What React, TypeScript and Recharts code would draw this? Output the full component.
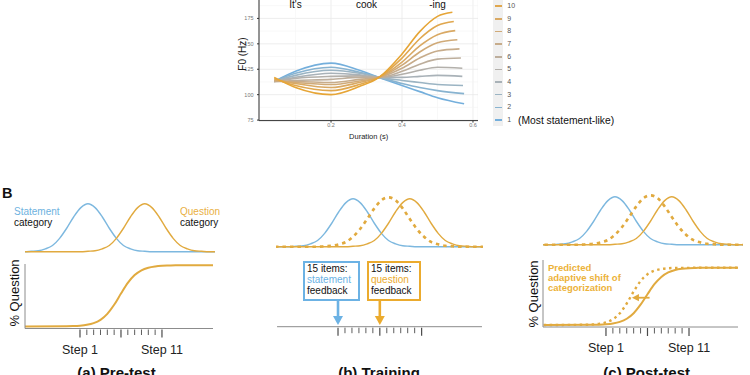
import React from 'react'
import { LineChart, Line, XAxis, YAxis, CartesianGrid, ReferenceLine, ReferenceDot } from 'recharts'

// ---------- A: F0 contours of the 11 continuum steps ----------
const contourTimes = [0.04, 0.1, 0.2, 0.28, 0.335, 0.4, 0.45, 0.5]
const contourEndTimes = [0.575, 0.575, 0.572, 0.57, 0.57, 0.566, 0.562, 0.556, 0.55, 0.546, 0.542]
const step1F0 = [113, 123, 131, 124, 117, 109, 103, 97, 91]
const step2F0 = [113, 121, 127, 122, 117, 111, 107, 104, 101]
const step3F0 = [113, 119, 124, 121, 117, 114, 112, 110, 109]
const step4F0 = [113, 117, 121, 119.5, 117, 117, 118, 119, 118]
const step5F0 = [113, 116, 118, 118.5, 117, 120, 124, 127, 126]
const step6F0 = [113, 114, 115, 117, 117, 123, 130, 135, 136]
const step7F0 = [113, 113, 112, 115, 117, 126, 136, 143, 145]
const step8F0 = [114, 112, 110, 113.5, 117, 129, 142, 151, 154]
const step9F0 = [115, 111, 107, 112, 117, 132, 148, 159, 163]
const step10F0 = [116, 109, 104, 110, 117, 136, 155, 168, 172]
const step11F0 = [117, 107, 100, 108, 117, 140, 162, 177, 181]
const stepF0 = [step1F0, step2F0, step3F0, step4F0, step5F0, step6F0, step7F0, step8F0, step9F0, step10F0, step11F0]
const stepNames = ['1', '2', '3', '4', '5', '6', '7', '8', '9', '10', '11']
const stepNotes = ['(Most statement-like)', '', '', '', '', '', '', '', '', '', '(Most question-like)']
const durationTicks = [0.2, 0.4, 0.6]
const f0Ticks = [75, 100, 125, 150, 175]
const minorF0 = [87.5, 112.5, 137.5, 162.5, 187.5]
const syllables = ["It's", 'cook', '-ing']
const syllableTimes = [0.1, 0.3, 0.5]

// ---------- B: category distributions & identification curves ----------
const statementX = [-11, -9, -8, -7, -6, -5, -4, -3, -2, -1, 0, 1, 2, 3, 4, 5, 6, 7, 8, 9, 21]
const statementY = [0, 0, 0.01, 0.02, 0.06, 0.13, 0.28, 0.49, 0.73, 0.92, 1, 0.92, 0.73, 0.49, 0.28, 0.13, 0.06, 0.02, 0.01, 0, 0]
const questionX = [-11, -1, 0, 1, 2, 3, 4, 5, 6, 7, 8, 9, 10, 11, 12, 13, 14, 15, 16, 17, 21]
const questionY = [0, 0, 0.01, 0.02, 0.06, 0.13, 0.28, 0.49, 0.73, 0.92, 1, 0.92, 0.73, 0.49, 0.28, 0.13, 0.06, 0.02, 0.01, 0, 0]
const shiftedX = [-11, -5, -4, -3, -2, -1, 0, 1, 2, 3, 4, 5, 6, 7, 8, 9, 10, 11, 12, 13, 14, 15, 21]
const shiftedY = [0, 0, 0.01, 0.02, 0.05, 0.1, 0.21, 0.37, 0.58, 0.8, 0.97, 1.03, 0.97, 0.8, 0.58, 0.37, 0.21, 0.1, 0.05, 0.02, 0.01, 0, 0]

const identX = [-9, -2, -1, 0, 1, 2, 3, 4, 5, 6, 7, 8, 9, 10, 11, 12, 13, 14, 20]
const identY = [0, 0.003, 0.006, 0.013, 0.027, 0.055, 0.109, 0.206, 0.354, 0.537, 0.711, 0.839, 0.917, 0.959, 0.98, 0.991, 0.996, 1, 1]
const shiftedIdentX = [-9, -3, -2, -1, 0, 1, 2, 3, 4, 5, 6, 7, 8, 9, 10, 20]
const shiftedIdentY = [0, 0.004, 0.008, 0.02, 0.045, 0.099, 0.204, 0.375, 0.584, 0.767, 0.885, 0.947, 0.977, 0.99, 0.996, 1]

const stepTicks = [0, 1, 2, 3, 4, 5, 6, 7, 8, 9, 10, 11, 12]
const majorStepTicks = [0, 6, 12]
const stepTickLabels = ['Step 1', '', '', '', '', '', '', '', '', '', '', '', 'Step 11']
const feedbackTicks = [0, 6]
const shiftArrow = { from: 6.3, to: 3.75, level: 0.476 }

// ---------- styles ----------
const stepColors = ['#74afdc', '#88b3d0', '#9bb4c3', '#a9b2b8', '#b3b0ab', '#bdae9c', '#c7ac8b', '#d0aa78', '#d9a964', '#e0a74e', '#e6a536']
const BLUE = '#7db8df'
const GOLD = '#e1aa3f'
const BOX_BLUE = '#6cb2e4'
const BOX_GOLD = '#ebab2e'
const AXIS = '#8c8c8c'

const toRows = (xs: number[], ys: number[]) => xs.map((u, i) => ({ u, v: ys[i] }))
const contourData = stepF0.map((vals, i) =>
  [...contourTimes, contourEndTimes[i]].map((t, j) => ({ t, f0: vals[j] }))
)

function StepTick(props: any) {
  const { x, y, payload, showLabels } = props
  const v = payload.value
  const major = majorStepTicks.includes(v)
  const label = showLabels ? stepTickLabels[stepTicks.indexOf(v)] : ''
  return (
    <g>
      <line x1={x} x2={x} y1={y + 1} y2={y + (major ? 9 : 6.5)} stroke="#4a4a4a" strokeWidth={major ? 1.2 : 0.9} />
      {label ? (
        <text x={x} y={y + 25} textAnchor="middle" fontSize={12.5} fill="#222">{label}</text>
      ) : null}
    </g>
  )
}

const downHead = (color: string) => (p: any) => (
  <polygon points={`${p.cx},${p.cy} ${p.cx - 5},${p.cy - 9} ${p.cx + 5},${p.cy - 9}`} fill={color} />
)
const leftHead = (color: string) => (p: any) => (
  <polygon points={`${p.cx},${p.cy} ${p.cx + 7},${p.cy - 3.6} ${p.cx + 7},${p.cy + 3.6}`} fill={color} />
)

function F0Chart() {
  return (
    <div style={{ position: 'absolute', left: 239, top: -7.1 }}>
      <LineChart width={239.3} height={149.1} margin={{ top: 0, right: 0, bottom: 3, left: 0 }}>
        <CartesianGrid stroke="#e8e8e8" strokeWidth={0.8} />
        {minorF0.map((f) => (
          <ReferenceLine key={f} y={f} stroke="#f3f3f3" strokeWidth={0.6} />
        ))}
        {syllables.map((s, i) => (
          <ReferenceLine
            key={s}
            x={syllableTimes[i]}
            stroke="#f3f3f3"
            strokeWidth={0.6}
            label={{ value: s, position: 'insideTop', offset: 7.5, fontSize: 10, fill: '#111' }}
          />
        ))}
        <XAxis
          type="number"
          dataKey="t"
          domain={[-0.003, 0.615]}
          ticks={durationTicks}
          interval={0}
          height={18.5}
          tick={{ fontSize: 5.5, fill: '#777' }}
          tickSize={2}
          tickMargin={1}
          stroke="#333"
          label={{ value: 'Duration (s)', position: 'insideBottom', offset: 0, fontSize: 7.5, fill: '#222' }}
        />
        <YAxis
          type="number"
          domain={[74.5, 200]}
          ticks={f0Ticks}
          interval={0}
          width={20}
          tick={{ fontSize: 5.5, fill: '#777' }}
          tickSize={2}
          tickMargin={3.5}
          stroke="#333"
        />
        {contourData.map((d, i) => (
          <Line
            key={i}
            data={d}
            dataKey="f0"
            type="monotone"
            stroke={stepColors[i]}
            strokeWidth={1.6}
            dot={false}
            isAnimationActive={false}
          />
        ))}
      </LineChart>
    </div>
  )
}

function Legend11() {
  return (
    <>
      <div style={{ position: 'absolute', left: 492.7, top: -14, width: 10.6, height: 140, background: '#f0f0f0' }} />
      {stepNames.map((s, i) => {
        const y = 120 - i * 12.65
        return (
          <React.Fragment key={s}>
            <div style={{ position: 'absolute', left: 495, top: y - 0.8, width: 7, height: 1.6, background: stepColors[i] }} />
            <div style={{ position: 'absolute', left: 507.3, top: y - 5, fontSize: 7, lineHeight: '10px', color: '#555' }}>{s}</div>
            {stepNotes[i] ? (
              <div style={{ position: 'absolute', left: 518, top: y - 6.5, fontSize: 10.3, lineHeight: '13px', color: '#111', whiteSpace: 'nowrap' }}>
                {stepNotes[i]}
              </div>
            ) : null}
          </React.Fragment>
        )
      })}
    </>
  )
}

function DistChart({ left, top, width, domain, shifted }: { left: number; top: number; width: number; domain: [number, number]; shifted: boolean }) {
  return (
    <div style={{ position: 'absolute', left, top }}>
      <LineChart width={width} height={54.2} margin={{ top: 0, right: 0, bottom: 0, left: 0 }}>
        <XAxis type="number" dataKey="u" hide domain={domain} allowDataOverflow />
        <YAxis type="number" hide domain={[-0.03, 1.1]} />
        <Line data={toRows(statementX, statementY)} dataKey="v" type="monotone" stroke={BLUE} strokeWidth={1.4} dot={false} isAnimationActive={false} />
        <Line data={toRows(questionX, questionY)} dataKey="v" type="monotone" stroke={GOLD} strokeWidth={1.4} dot={false} isAnimationActive={false} />
        {shifted ? (
          <Line data={toRows(shiftedX, shiftedY)} dataKey="v" type="monotone" stroke={GOLD} strokeWidth={2.6} strokeDasharray="3.5 4" dot={false} isAnimationActive={false} />
        ) : null}
      </LineChart>
    </div>
  )
}

function IdentChart({ left, top, width, plotH, xDomain, yDomain, shifted }: { left: number; top: number; width: number; plotH: number; xDomain: [number, number]; yDomain: [number, number]; shifted: boolean }) {
  return (
    <div style={{ position: 'absolute', left: left - 1, top }}>
      <LineChart width={width + 1} height={plotH + 30} margin={{ top: 0, right: 0, bottom: 0, left: 0 }}>
        <XAxis
          type="number"
          dataKey="u"
          domain={xDomain}
          allowDataOverflow
          ticks={stepTicks}
          interval={0}
          height={30}
          tickSize={0}
          tickMargin={0}
          tickLine={false}
          tick={(p: any) => <StepTick {...p} showLabels />}
          stroke={AXIS}
        />
        <YAxis type="number" domain={yDomain} width={1} tick={false} tickLine={false} stroke={AXIS} />
        {shifted ? (
          <Line data={toRows(shiftedIdentX, shiftedIdentY)} dataKey="v" type="monotone" stroke={GOLD} strokeWidth={2.4} strokeDasharray="2.5 3.5" dot={false} isAnimationActive={false} />
        ) : null}
        <Line data={toRows(identX, identY)} dataKey="v" type="monotone" stroke={GOLD} strokeWidth={2} dot={false} isAnimationActive={false} />
        {shifted ? (
          <ReferenceLine segment={[{ x: shiftArrow.from, y: shiftArrow.level }, { x: shiftArrow.to + 0.9, y: shiftArrow.level }]} stroke={GOLD} strokeWidth={1.8} />
        ) : null}
        {shifted ? (
          <ReferenceDot x={shiftArrow.to} y={shiftArrow.level} shape={leftHead(GOLD)} />
        ) : null}
      </LineChart>
    </div>
  )
}

function TrainingAxis() {
  const colors = [BOX_BLUE, BOX_GOLD]
  const baseline = toRows(stepTicks, stepTicks.map(() => 0))
  return (
    <div style={{ position: 'absolute', left: 277, top: 296 }}>
      <LineChart width={205} height={42.7} margin={{ top: 0, right: 0, bottom: 0, left: 0 }}>
        <XAxis
          type="number"
          dataKey="u"
          domain={[-8.75, 20.66]}
          ticks={stepTicks}
          interval={0}
          height={12}
          tickSize={0}
          tickMargin={0}
          tickLine={false}
          tick={(p: any) => <StepTick {...p} showLabels={false} />}
          stroke={AXIS}
        />
        <YAxis type="number" dataKey="v" domain={[0, 1]} width={0.01} tick={false} tickLine={false} axisLine={false} />
        <Line data={baseline} dataKey="v" stroke="none" dot={false} isAnimationActive={false} />
        {feedbackTicks.map((u, i) => (
          <ReferenceLine key={'s' + u} segment={[{ x: u, y: 0.84 }, { x: u, y: 0.3 }]} stroke={colors[i]} strokeWidth={2.6} />
        ))}
        {feedbackTicks.map((u, i) => (
          <ReferenceDot key={'h' + u} x={u} y={0.055} shape={downHead(colors[i])} />
        ))}
      </LineChart>
    </div>
  )
}

const abs = (left: number, top: number, extra: React.CSSProperties = {}): React.CSSProperties => ({
  position: 'absolute',
  left,
  top,
  whiteSpace: 'nowrap',
  ...extra,
})

function FeedbackBox({ left, width, word, color }: { left: number; width: number; word: string; color: string }) {
  return (
    <div
      style={{
        position: 'absolute',
        left,
        top: 261,
        width,
        height: 40,
        boxSizing: 'border-box',
        border: `2.5px solid ${color}`,
        padding: '1px 0 0 2px',
        fontSize: 10,
        lineHeight: '10.8px',
        color: '#111',
      }}
    >
      <div>15 items:</div>
      <div style={{ color }}>{word}</div>
      <div>feedback</div>
    </div>
  )
}

export default function App() {
  return (
    <div
      style={{
        position: 'absolute',
        left: 0,
        top: 0,
        width: 750,
        height: 375,
        overflow: 'hidden',
        background: '#fff',
        fontFamily: '"Liberation Sans", Arial, Helvetica, sans-serif',
        color: '#111',
      }}
    >
      <F0Chart />
      <Legend11 />
      <div style={abs(241.5, 54, { transform: 'translate(-50%, -50%) rotate(-90deg)', fontSize: 10, color: '#222' })}>F0 (Hz)</div>

      <div style={abs(2, 186, { fontSize: 14.5, fontWeight: 700, lineHeight: '14px' })}>B</div>

      {/* (a) Pre-test */}
      <DistChart left={25} top={198.9} width={190} domain={[-8.87, 17.89]} shifted={false} />
      <div style={abs(14, 207.4, { fontSize: 10, lineHeight: '10.6px' })}>
        <div style={{ color: '#6eb2e0' }}>Statement</div>
        <div>category</div>
      </div>
      <div style={abs(180, 207.4, { fontSize: 10, lineHeight: '10.6px' })}>
        <div style={{ color: '#e9b043' }}>Question</div>
        <div>category</div>
      </div>
      <IdentChart left={25} top={263.5} width={188} plotH={64.5} xDomain={[-8.05, 19.47]} yDomain={[-0.033, 1.02]} shifted={false} />
      <div style={abs(13.5, 292.5, { transform: 'translate(-50%, -50%) rotate(-90deg)', fontSize: 13 })}>% Question</div>
      <div style={abs(116.5, 364.8, { transform: 'translateX(-50%)', fontSize: 15, fontWeight: 700, lineHeight: '15px' })}>(a) Pre-test</div>

      {/* (b) Training */}
      <DistChart left={276} top={193.9} width={207} domain={[-10.85, 18.31]} shifted />
      <FeedbackBox left={303} width={57} word="statement" color={BOX_BLUE} />
      <FeedbackBox left={367} width={54} word="question" color={BOX_GOLD} />
      <TrainingAxis />
      <div style={abs(379, 364.8, { transform: 'translateX(-50%)', fontSize: 15, fontWeight: 700, lineHeight: '15px' })}>(b) Training</div>

      {/* (c) Post-test */}
      <DistChart left={543} top={192.2} width={200} domain={[-10.14, 18.03]} shifted />
      <IdentChart left={543} top={260} width={195} plotH={67} xDomain={[-9.1, 19.08]} yDomain={[-0.035, 1.134]} shifted />
      <div style={abs(532.5, 293.5, { transform: 'translate(-50%, -50%) rotate(-90deg)', fontSize: 13 })}>% Question</div>
      <div style={abs(548, 262.7, { fontSize: 9.5, fontWeight: 700, lineHeight: '10px', color: '#ecb23a' })}>
        <div>Predicted</div>
        <div>adaptive shift of</div>
        <div>categorization</div>
      </div>
      <div style={abs(646.7, 364.8, { transform: 'translateX(-50%)', fontSize: 15, fontWeight: 700, lineHeight: '15px' })}>(c) Post-test</div>
    </div>
  )
}
